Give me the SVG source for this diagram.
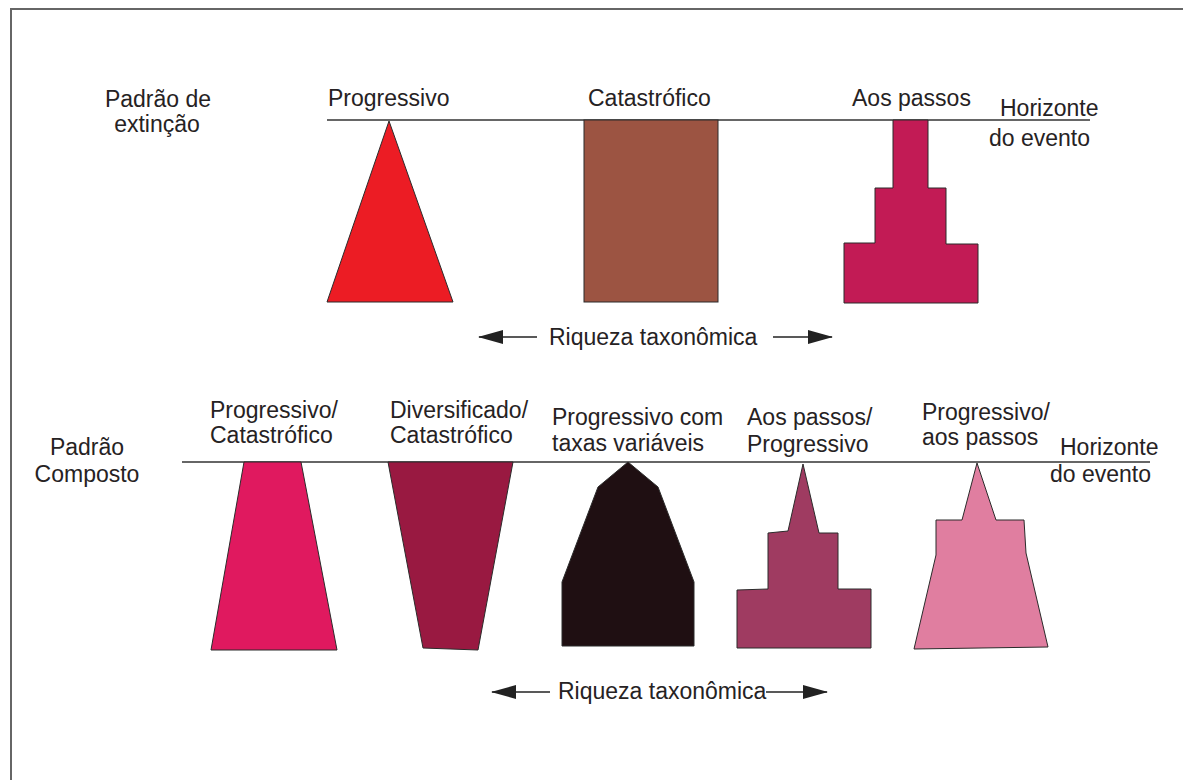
<svg xmlns="http://www.w3.org/2000/svg" width="1183" height="780" viewBox="0 0 1183 780">
<style>
text{font-family:"Liberation Sans",Arial,sans-serif;font-size:23px;fill:#262223}
.sh{stroke:#2b2b2b;stroke-width:1;stroke-linejoin:miter}
.ln{stroke:#333;stroke-width:1.5;fill:none}
.ar{stroke:#222;stroke-width:1.4;fill:none}
</style>
<defs>
<marker id="ah" viewBox="0 0 25 14" refX="24" refY="7" markerWidth="25" markerHeight="14" markerUnits="userSpaceOnUse" orient="auto-start-reverse">
<path d="M0,0 L25,7 L0,14 Z" fill="#222"/>
</marker>
</defs>
<rect width="1183" height="780" fill="#fff"/>
<path d="M11,780 V9 H1183" fill="none" stroke="#666" stroke-width="2"/>

<g id="labels-top">
<text x="158" y="107" text-anchor="middle">Padrão de</text>
<text x="157" y="132" text-anchor="middle">extinção</text>
<text x="328" y="106">Progressivo</text>
<text x="588" y="106">Catastrófico</text>
<text x="852" y="106">Aos passos</text>
<text x="1000" y="116">Horizonte</text>
<text x="989" y="146">do evento</text>
</g>

<g id="connectors">
<line class="ln" x1="327" y1="120" x2="1090" y2="120"/>
<line class="ln" x1="182" y1="462" x2="1150" y2="462"/>
<line class="ar" x1="537" y1="337" x2="479" y2="337" marker-end="url(#ah)"/>
<line class="ar" x1="773" y1="337" x2="832" y2="337" marker-end="url(#ah)"/>
<line class="ar" x1="550" y1="692" x2="492" y2="692" marker-end="url(#ah)"/>
<line class="ar" x1="766" y1="692" x2="827" y2="692" marker-end="url(#ah)"/>
</g>

<g id="node-progressivo"><polygon class="sh" fill="#EC1C24" points="389,121 453,302 327,302"/></g>
<g id="node-catastrofico"><rect class="sh" fill="#9C5442" x="584" y="120" width="134" height="182"/></g>
<g id="node-aos-passos"><polygon class="sh" fill="#C21B55" points="893,120 928,120 928,188 946,188 946,244 978,244 978,303 844,303 844,243 875,243 875,188 893,188"/></g>

<g id="riqueza-top"><text x="549" y="345">Riqueza taxonômica</text></g>

<g id="labels-bottom">
<text x="87" y="455" text-anchor="middle">Padrão</text>
<text x="87" y="482" text-anchor="middle">Composto</text>
<text x="210" y="418">Progressivo/</text>
<text x="210" y="443">Catastrófico</text>
<text x="390" y="418">Diversificado/</text>
<text x="390" y="443">Catastrófico</text>
<text x="552" y="425">Progressivo com</text>
<text x="552" y="451">taxas variáveis</text>
<text x="747" y="425">Aos passos/</text>
<text x="747" y="452">Progressivo</text>
<text x="922" y="420">Progressivo/</text>
<text x="922" y="445">aos passos</text>
<text x="1060" y="455">Horizonte</text>
<text x="1050" y="482">do evento</text>
</g>

<g id="node-prog-cat"><polygon class="sh" fill="#E0195F" points="244,462 301,462 337,650 211,650"/></g>
<g id="node-div-cat"><polygon class="sh" fill="#991941" points="388,462 513,462 478,650 423,648"/></g>
<g id="node-prog-taxas"><polygon class="sh" fill="#1F0F12" points="628,462 658,487 694,582 694,646 562,646 562,582 598,487"/></g>
<g id="node-aos-prog"><polygon class="sh" fill="#9F3B61" points="803,464 819,533 838,533 838,589 871,589 871,648 737,648 737,590 768,589 768,533 788,531"/></g>
<g id="node-prog-aos"><polygon class="sh" fill="#E07EA0" points="977,463 996,520 1024,520 1026,553 1048,647 914,649 936,555 936,520 962,520"/></g>

<g id="riqueza-bottom"><text x="558" y="699">Riqueza taxonômica</text></g>
</svg>
